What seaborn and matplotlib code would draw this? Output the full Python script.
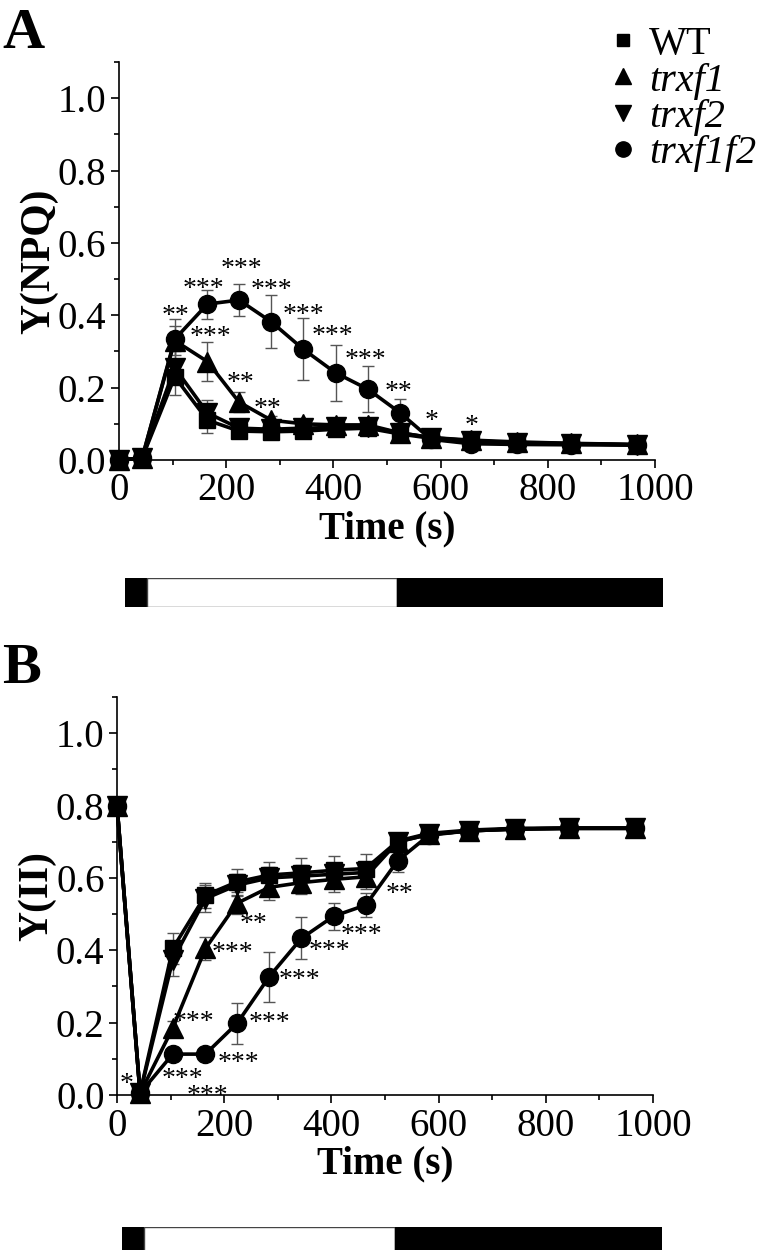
import numpy as np
import pandas as pd
import matplotlib
matplotlib.use("Agg")
import matplotlib.pyplot as plt
from matplotlib.ticker import MultipleLocator
from matplotlib.lines import Line2D
import seaborn as sns

sns.set_style("ticks")
plt.rcParams['font.family'] = ['Liberation Serif', 'DejaVu Serif']
for k in ["text.color", "axes.labelcolor", "xtick.color", "ytick.color", "axes.edgecolor"]:
    plt.rcParams[k] = "black"

# ---------------- data ----------------
time = [0, 43, 104, 165, 224, 284, 344, 404, 464, 524, 582, 656, 742, 844, 967]
genotypes = ["WT", "trxf1", "trxf2", "trxf1f2"]

# Panel A: Y(NPQ)
npq_WT = [0, 0.005, 0.23, 0.11, 0.08, 0.078, 0.08, 0.085, 0.088, 0.072, 0.06, 0.052, 0.048, 0.045, 0.042]
npq_WT_err = [0, 0, 0.05, 0.035, 0.01, 0.01, 0.01, 0.01, 0.01, 0.01, 0.005, 0.005, 0.005, 0.005, 0.005]
npq_trxf1 = [0, 0.005, 0.33, 0.272, 0.16, 0.11, 0.1, 0.097, 0.097, 0.075, 0.062, 0.055, 0.05, 0.046, 0.043]
npq_trxf1_err = [0, 0, 0.04, 0.055, 0.028, 0.012, 0.01, 0.01, 0.01, 0.01, 0.005, 0.005, 0.005, 0.005, 0.005]
npq_trxf2 = [0, 0.005, 0.255, 0.13, 0.088, 0.085, 0.088, 0.09, 0.092, 0.075, 0.062, 0.053, 0.048, 0.045, 0.042]
npq_trxf2_err = [0, 0, 0.045, 0.035, 0.012, 0.01, 0.01, 0.01, 0.01, 0.01, 0.005, 0.005, 0.005, 0.005, 0.005]
npq_trxf1f2 = [0, 0.005, 0.334, 0.431, 0.442, 0.382, 0.306, 0.241, 0.196, 0.131, 0.057, 0.045, 0.043, 0.042, 0.041]
npq_trxf1f2_err = [0, 0, 0.055, 0.04, 0.044, 0.073, 0.086, 0.078, 0.063, 0.037, 0.005, 0.005, 0.005, 0.005, 0.005]

# Panel B: Y(II)
y2_WT = [0.8, 0.005, 0.405, 0.552, 0.589, 0.608, 0.614, 0.621, 0.626, 0.702, 0.723, 0.732, 0.737, 0.738, 0.738]
y2_WT_err = [0.01, 0.005, 0.042, 0.035, 0.037, 0.037, 0.04, 0.04, 0.04, 0.015, 0.01, 0.01, 0.01, 0.01, 0.01]
y2_trxf1 = [0.8, 0.005, 0.185, 0.405, 0.53, 0.574, 0.587, 0.596, 0.603, 0.70, 0.72, 0.73, 0.735, 0.737, 0.737]
y2_trxf1_err = [0.01, 0.005, 0.02, 0.032, 0.03, 0.035, 0.032, 0.035, 0.035, 0.015, 0.01, 0.01, 0.01, 0.01, 0.01]
y2_trxf2 = [0.8, 0.005, 0.373, 0.543, 0.58, 0.60, 0.605, 0.61, 0.615, 0.70, 0.72, 0.73, 0.735, 0.737, 0.737]
y2_trxf2_err = [0.01, 0.005, 0.045, 0.037, 0.03, 0.03, 0.03, 0.03, 0.03, 0.015, 0.01, 0.01, 0.01, 0.01, 0.01]
y2_trxf1f2 = [0.8, 0.005, 0.113, 0.113, 0.198, 0.327, 0.433, 0.494, 0.525, 0.648, 0.718, 0.73, 0.735, 0.737, 0.737]
y2_trxf1f2_err = [0.01, 0.005, 0.01, 0.01, 0.056, 0.069, 0.058, 0.038, 0.032, 0.032, 0.01, 0.01, 0.01, 0.01, 0.01]

# significance labels (text, x, y)
stars_A = [("**", 106, 0.414), ("***", 157, 0.49), ("***", 228, 0.544), ("***", 285, 0.486),
           ("***", 345, 0.417), ("***", 399, 0.359), ("***", 459, 0.293), ("**", 522, 0.204),
           ("*", 584, 0.124), ("*", 657, 0.11), ("***", 170, 0.356), ("**", 226, 0.229),
           ("**", 278, 0.157)]
stars_B = [("*", 17, 0.047), ("***", 123, 0.06), ("***", 168, 0.014), ("***", 142, 0.22),
           ("***", 216, 0.41), ("**", 254, 0.49), ("***", 226, 0.105), ("***", 285, 0.216),
           ("***", 340, 0.334), ("***", 397, 0.414), ("***", 457, 0.46), ("**", 528, 0.574)]

# light regime: (start, end, colour)
light_periods = [(0, 40, "black"), (40, 505, "white"), (505, 1000, "black")]

markers = {"WT": "s", "trxf1": "^", "trxf2": "v", "trxf1f2": "o"}
msizes = {"WT": 11, "trxf1": 14, "trxf2": 14, "trxf1f2": 13}

# ---------------- figure ----------------
fig = plt.figure(figsize=(7.6, 12.5), dpi=100)
W, H = 760, 1250
def fax(x0, y0, x1, y1):
    return fig.add_axes([x0 / W, 1 - y1 / H, (x1 - x0) / W, (y1 - y0) / H])

axA = fax(119, 62, 655, 460)
axB = fax(117, 697, 653, 1095)
barA = fax(125, 578, 663, 607)
barB = fax(122, 1227, 662, 1256)

TICK_FS = 28
XLAB_FS = 28
YLAB_FS = 30

def draw_panel(ax, series, errs, stars, ylabel):
    order = ["WT", "trxf2", "trxf1", "trxf1f2"]
    for g in order:
        ax.errorbar(time, series[g], yerr=errs[g], fmt="none", ecolor="#555555",
                    elinewidth=1.0, capsize=4, capthick=1.0, zorder=2, clip_on=False)
    for g in order:
        df = pd.DataFrame({"time": time, "value": series[g]})
        sns.lineplot(data=df, x="time", y="value", ax=ax, color="black", lw=2.6,
                     marker=markers[g], markersize=msizes[g], markeredgecolor="black",
                     markeredgewidth=1, clip_on=False, zorder=3, sort=False)
    for s, x, y in stars:
        ax.annotate(s, (x, y), xytext=(0, -9.5), textcoords="offset points",
                    ha="center", va="baseline", fontsize=20, annotation_clip=False)
    ax.set_xlim(0, 1000)
    ax.set_ylim(0, 1.1)
    ax.xaxis.set_major_locator(MultipleLocator(200))
    ax.xaxis.set_minor_locator(MultipleLocator(100))
    ax.yaxis.set_minor_locator(MultipleLocator(0.1))
    ax.set_yticks(np.arange(0, 1.01, 0.2))
    ax.set_yticklabels([f"{v:.1f}" for v in np.arange(0, 1.01, 0.2)])
    ax.tick_params(which="major", direction="out", length=6, width=1.2, labelsize=TICK_FS, pad=3)
    ax.tick_params(which="minor", direction="out", length=3.5, width=1.2)
    for sp in ["top", "right"]:
        ax.spines[sp].set_visible(False)
    for sp in ["left", "bottom"]:
        ax.spines[sp].set_linewidth(1.2)
        ax.spines[sp].set_color("black")
    ax.set_xlabel("Time (s)", fontsize=XLAB_FS, fontweight="bold", labelpad=1)
    ax.set_ylabel(ylabel, fontsize=YLAB_FS, fontweight="bold", labelpad=0)

draw_panel(axA,
           {"WT": npq_WT, "trxf1": npq_trxf1, "trxf2": npq_trxf2, "trxf1f2": npq_trxf1f2},
           {"WT": npq_WT_err, "trxf1": npq_trxf1_err, "trxf2": npq_trxf2_err, "trxf1f2": npq_trxf1f2_err},
           stars_A, "Y(NPQ)")
draw_panel(axB,
           {"WT": y2_WT, "trxf1": y2_trxf1, "trxf2": y2_trxf2, "trxf1f2": y2_trxf1f2},
           {"WT": y2_WT_err, "trxf1": y2_trxf1_err, "trxf2": y2_trxf2_err, "trxf1f2": y2_trxf1f2_err},
           stars_B, "Y(II)")

for bax in (barA, barB):
    for start, end, col in light_periods:
        bax.barh(0, end - start, left=start, height=1, color=col,
                 edgecolor="#444444" if col == "white" else "black", linewidth=1)
    bax.set_xlim(0, 1000)
    bax.set_ylim(-0.5, 0.5)
    bax.axis("off")

# legend
handles = [Line2D([], [], linestyle="none", marker=markers[g], color="black",
                  markersize={"WT": 9, "trxf1": 12, "trxf2": 12, "trxf1f2": 11}[g]) for g in genotypes]
leg = fig.legend(handles, genotypes, loc="upper left", bbox_to_anchor=(603 / W, 1 - 26 / H),
                 frameon=False, fontsize=29, handlelength=1.0, handletextpad=0.15,
                 labelspacing=-0.02, borderpad=0, borderaxespad=0)
for t in leg.get_texts()[1:]:
    t.set_style("italic")

fig.text(2 / W, 1 - 8 / H, "A", fontsize=42, fontweight="bold", va="top", ha="left")
fig.text(2 / W, 1 - 643 / H, "B", fontsize=42, fontweight="bold", va="top", ha="left")

fig.savefig("out.png", dpi=100)
